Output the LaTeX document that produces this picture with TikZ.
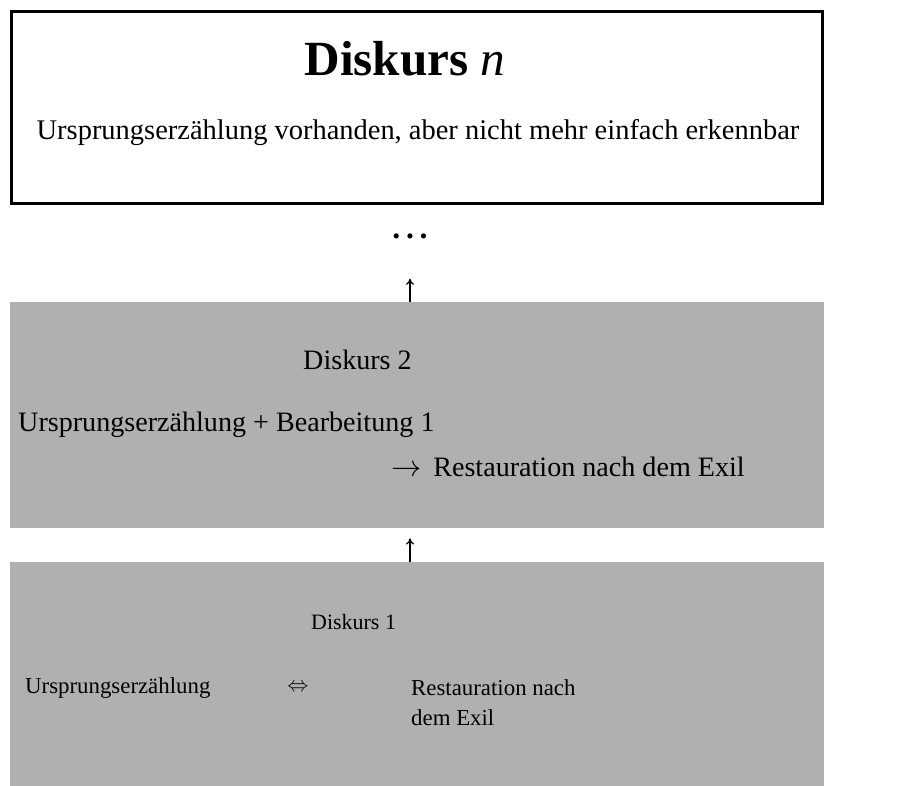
\documentclass[tikz,border=0pt]{standalone}
\usepackage{fontspec}
\usepackage{amsmath,amssymb}
\newfontfamily\timesfont{Liberation Serif}
\usepackage{tikz}
\usetikzlibrary{arrows.meta}
\definecolor{boxgray}{RGB}{176,176,176}

\begin{document}
\begin{tikzpicture}[x=0.02cm,y=-0.02cm,
  discbox/.style={fill=boxgray,minimum width=16.28cm,inner sep=0pt},
  uparrow/.style={-{To[length=3.5pt,width=4.5pt]},line width=0.7pt}]
  \useasboundingbox (0,0) rectangle (909,785);

  %Diskurs n
  \node[name=dn,draw,line width=1.7pt,minimum width=16.22cm,minimum height=3.84cm,at={(417,107.5)}]{};
  \node[name=dntitle,at={(405,59)},font=\timesfont\fontsize{28}{32}\selectfont\bfseries]{Diskurs \textit{\mdseries n}};
  \node[name=dntext,at={(418,133)},font=\timesfont\fontsize{16.2}{19}\selectfont]{Ursprungserzählung vorhanden, aber nicht mehr einfach erkennbar};
  \node[name=dots,anchor=base,at={(410,238)},font=\timesfont\fontsize{18}{22}\selectfont\bfseries]{.\kern0.18em.\kern0.18em.};

  %Diskurs 2
  \node[name=d2,discbox,minimum height=4.52cm,at={(417,415)}]{};
  \node[name=d2title,anchor=west,at={(297,360)},font=\timesfont\fontsize{16}{19}\selectfont]{Diskurs 2};
  \node[name=d2a,anchor=west,at={(12,425)},font=\timesfont\fontsize{16}{19}\selectfont]{Ursprungserzählung + Bearbeitung 1};
  \node[name=d2b,anchor=west,at={(385,467)},font=\timesfont\fontsize{16}{19}\selectfont]{$\rightarrow$\, Restauration nach dem Exil};

  %Diskurs 1
  \node[name=d1,discbox,minimum height=4.56cm,at={(417,676)}]{};
  \node[name=d1title,anchor=west,at={(305,622)},font=\timesfont\fontsize{12.5}{15}\selectfont]{Diskurs 1};
  \node[name=d1a,anchor=west,at={(19,688)},font=\timesfont\fontsize{13}{16}\selectfont]{Ursprungserzählung};
  \node[name=d1eq,at={(298,688)},font=\fontsize{13}{16}\selectfont]{$\Leftrightarrow$};
  \node[name=d1b,anchor=west,at={(405,703)},align=left,font=\timesfont\fontsize{13}{17}\selectfont]{Restauration nach\\dem Exil};

  %arrows
  \draw[uparrow,shorten >=0.2cm] (d1.north -| dots) -- (d2.south -| dots);
  \draw[uparrow,shorten >=0.68cm] (d2.north -| dots) -- (dots.south);
\end{tikzpicture}
\end{document}
